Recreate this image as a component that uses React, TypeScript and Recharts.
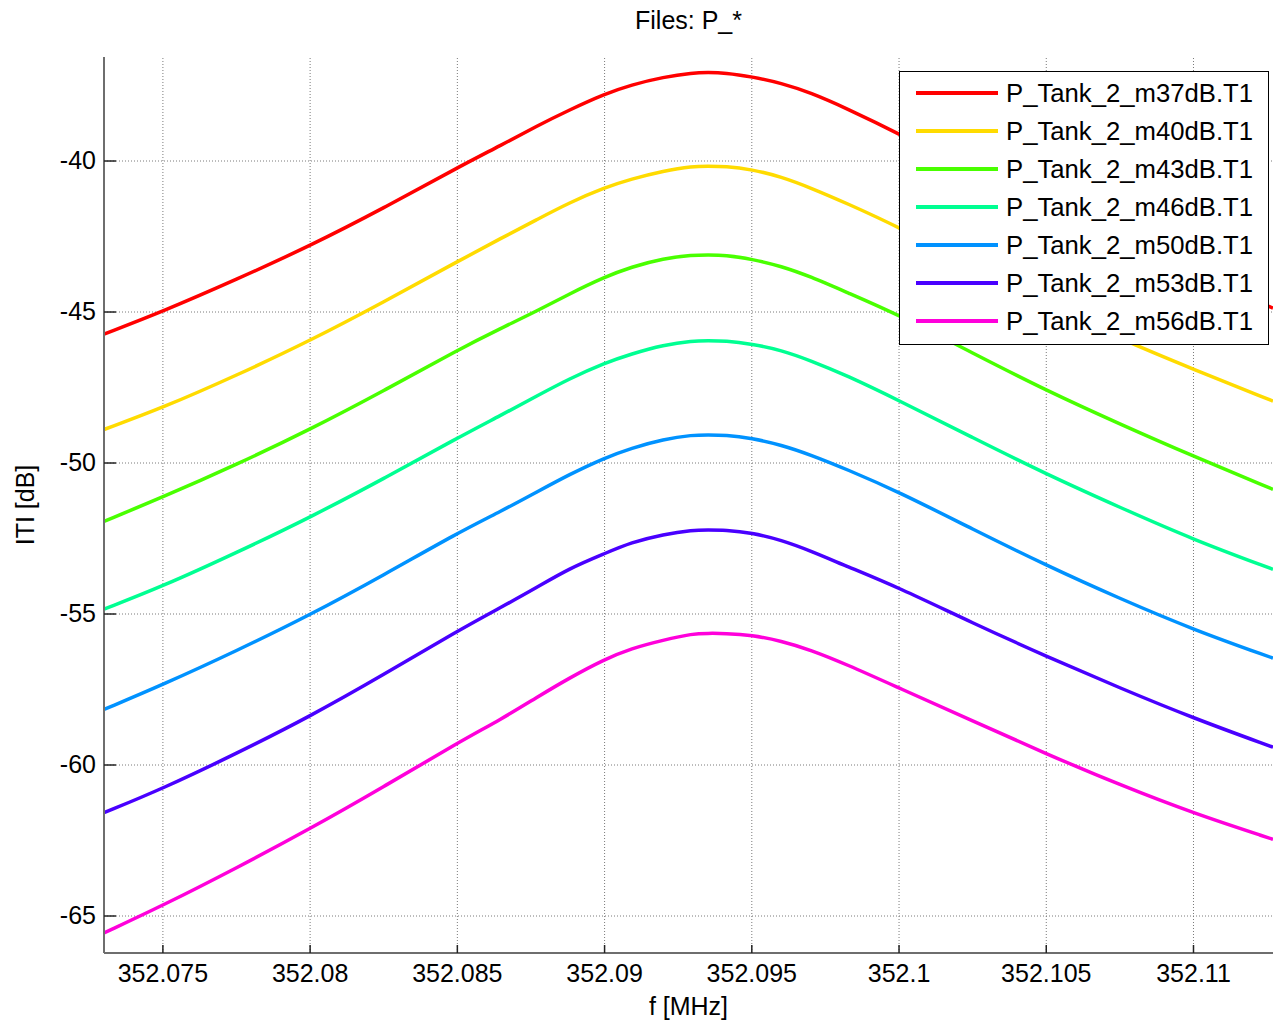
import { LineChart, Line, XAxis, YAxis, ReferenceLine, Legend } from 'recharts'

// frequency samples [MHz]
const freqs = [352.073, 352.075, 352.0775, 352.08, 352.0825, 352.085, 352.0865, 352.0877, 352.0888, 352.09, 352.0909, 352.092, 352.093, 352.0935, 352.0941, 352.095, 352.096, 352.097, 352.0982, 352.1, 352.1025, 352.105, 352.1075, 352.11, 352.1127]

// |T| [dB] per file
const m37 = [-45.73, -44.98, -43.92, -42.81, -41.56, -40.22, -39.47, -38.84, -38.31, -37.78, -37.48, -37.22, -37.08, -37.07, -37.08, -37.21, -37.42, -37.74, -38.25, -39.09, -40.40, -41.66, -42.81, -43.82, -44.87]
const m40 = [-48.89, -48.17, -47.10, -45.95, -44.67, -43.33, -42.55, -41.94, -41.38, -40.88, -40.60, -40.33, -40.17, -40.17, -40.17, -40.28, -40.52, -40.89, -41.39, -42.19, -43.48, -44.74, -45.89, -46.90, -47.95]
const m43 = [-51.93, -51.13, -50.05, -48.89, -47.61, -46.26, -45.53, -44.97, -44.40, -43.84, -43.51, -43.22, -43.11, -43.11, -43.11, -43.25, -43.48, -43.83, -44.34, -45.10, -46.36, -47.60, -48.71, -49.78, -50.87]
const m46 = [-54.84, -54.08, -52.97, -51.80, -50.52, -49.17, -48.41, -47.78, -47.21, -46.69, -46.39, -46.09, -45.95, -45.95, -45.95, -46.06, -46.26, -46.61, -47.09, -47.93, -49.16, -50.37, -51.47, -52.54, -53.52]
const m50 = [-58.16, -57.34, -56.22, -55.03, -53.71, -52.32, -51.59, -50.96, -50.38, -49.83, -49.51, -49.21, -49.07, -49.07, -49.07, -49.18, -49.40, -49.73, -50.20, -50.96, -52.19, -53.39, -54.49, -55.52, -56.46]
const m53 = [-61.58, -60.78, -59.62, -58.39, -57.01, -55.56, -54.77, -54.12, -53.49, -53.00, -52.63, -52.36, -52.22, -52.22, -52.22, -52.31, -52.55, -52.91, -53.41, -54.13, -55.30, -56.40, -57.45, -58.45, -59.41]
const m56 = [-65.56, -64.65, -63.41, -62.11, -60.72, -59.27, -58.48, -57.76, -57.12, -56.50, -56.14, -55.86, -55.65, -55.64, -55.64, -55.70, -55.89, -56.19, -56.66, -57.45, -58.54, -59.63, -60.66, -61.60, -62.46]

const xTicks = [352.075, 352.08, 352.085, 352.09, 352.095, 352.1, 352.105, 352.11]
const yTicks = [-65, -60, -55, -50, -45, -40]

const series = [
  { key: 'm37', name: 'P_Tank_2_m37dB.T1', color: '#FF0000', values: m37 },
  { key: 'm40', name: 'P_Tank_2_m40dB.T1', color: '#FFDB00', values: m40 },
  { key: 'm43', name: 'P_Tank_2_m43dB.T1', color: '#49FF00', values: m43 },
  { key: 'm46', name: 'P_Tank_2_m46dB.T1', color: '#00FF92', values: m46 },
  { key: 'm50', name: 'P_Tank_2_m50dB.T1', color: '#0092FF', values: m50 },
  { key: 'm53', name: 'P_Tank_2_m53dB.T1', color: '#4900FF', values: m53 },
  { key: 'm56', name: 'P_Tank_2_m56dB.T1', color: '#FF00DB', values: m56 },
]

const data = freqs.map((f, i) => {
  const row: any = { f }
  series.forEach(s => { row[s.key] = s.values[i] })
  return row
})

const FONT = '"Liberation Sans", Arial, Helvetica, sans-serif'
const fmtX = (v: number) => String(Number(v.toFixed(3)))

const XTick = ({ x, y, payload }: any) => (
  <g>
    <line x1={x} x2={x} y1={y} y2={y - 8} stroke="#222" strokeWidth={1.5} />
    <text x={x} y={y + 29} textAnchor="middle" fontSize={25} fontFamily={FONT} fill="#000">{fmtX(payload.value)}</text>
  </g>
)

const TopTick = ({ x, y }: any) => (
  <line x1={x} x2={x} y1={y} y2={y + 4} stroke="#222" strokeWidth={1.5} />
)

const YTick = ({ x, y, payload }: any) => (
  <g>
    <line x1={x} x2={x + 12} y1={y} y2={y} stroke="#222" strokeWidth={1.5} />
    <text x={x - 8} y={y + 8} textAnchor="end" fontSize={25} fontFamily={FONT} fill="#000">{payload.value}</text>
  </g>
)

const renderLegend = () => (
  <div style={{ width: 370, height: 274, boxSizing: 'border-box', border: '1.5px solid #000', background: '#fff', paddingTop: 2 }}>
    {series.map(s => (
      <div key={s.key} style={{ height: 38, display: 'flex', alignItems: 'center' }}>
        <svg width={98} height={10} style={{ flex: 'none' }}>
          <line x1={16} x2={98} y1={5} y2={5} stroke={s.color} strokeWidth={4} />
        </svg>
        <span style={{ marginLeft: 8, fontSize: 25.7, fontFamily: FONT, color: '#000', whiteSpace: 'nowrap' }}>{s.name}</span>
      </div>
    ))}
  </div>
)

export default function App() {
  return (
    <div style={{ position: 'absolute', left: 0, top: 0, width: 1274, height: 1025, background: '#fff', fontFamily: FONT }}>
      <div style={{ position: 'absolute', left: 104, width: 1169, top: 6, textAlign: 'center', fontSize: 25, color: '#000' }}>Files: P_*</div>
      <LineChart width={1274} height={1025} data={data} margin={{ top: 57, right: 1, bottom: 0, left: 0 }}>
        <XAxis
          dataKey="f" type="number" domain={[352.073, 352.1127]} allowDataOverflow ticks={xTicks}
          height={72} tickSize={0} tickMargin={0} tick={<XTick />}
          axisLine={{ stroke: '#6e6e6e', strokeWidth: 2 }}
          label={{ content: ({ viewBox }: any) => (
            <text x={viewBox.x + viewBox.width / 2} y={viewBox.y + 62} textAnchor="middle" fontSize={25} fontFamily={FONT} fill="#000">f [MHz]</text>
          ) }}
        />
        <XAxis
          xAxisId="top" orientation="top" dataKey="f" type="number" domain={[352.073, 352.1127]} allowDataOverflow ticks={xTicks}
          height={0} tickSize={0} tickMargin={0} tick={<TopTick />} axisLine={false}
        />
        <YAxis
          type="number" domain={[-66.225, -36.556]} allowDataOverflow ticks={yTicks}
          width={104} tickSize={0} tickMargin={0} tick={<YTick />}
          axisLine={{ stroke: '#6e6e6e', strokeWidth: 2 }}
          label={{ content: ({ viewBox }: any) => {
            const cx = viewBox.x + 34
            const cy = viewBox.y + viewBox.height / 2
            return <text x={cx} y={cy} transform={`rotate(-90 ${cx} ${cy})`} textAnchor="middle" fontSize={25} fontFamily={FONT} fill="#000">ITI [dB]</text>
          } }}
        />
        {xTicks.map(t => (
          <ReferenceLine key={'gx' + t} x={t} stroke="#7a7a7a" strokeDasharray="1 2" />
        ))}
        {yTicks.map(t => (
          <ReferenceLine key={'gy' + t} y={t} stroke="#7a7a7a" strokeDasharray="1 2" />
        ))}
        <Legend layout="vertical" align="center" verticalAlign="middle" wrapperStyle={{ left: 899, top: 71, width: 370, height: 274 }} content={renderLegend} />
        {series.map(s => (
          <Line key={s.key} dataKey={s.key} name={s.name} stroke={s.color} strokeWidth={3.5} type="basis" dot={false} isAnimationActive={false} />
        ))}
      </LineChart>
    </div>
  )
}
